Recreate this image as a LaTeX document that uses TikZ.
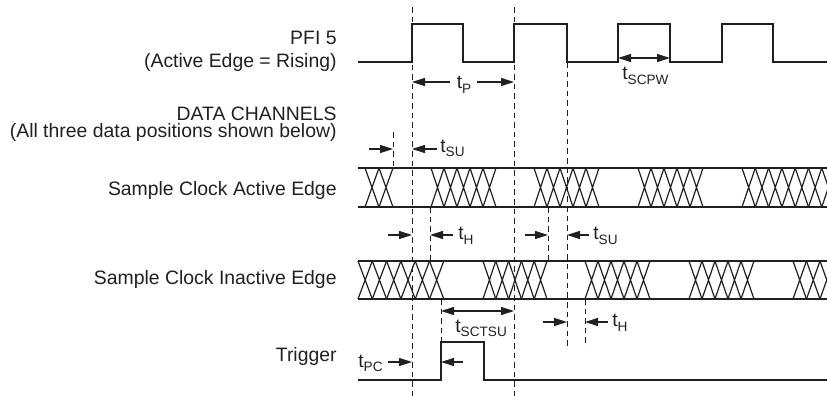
\documentclass[tikz,border=0pt]{standalone}
\usepackage{fontspec}
\setmainfont{Liberation Sans}
\usepackage{tikz}
\usetikzlibrary{arrows.meta}

\definecolor{ink}{RGB}{35,31,32}
\newcommand{\tsub}[1]{t\raisebox{-2pt}{\fontsize{6.8}{7}\selectfont #1}}
\newcommand{\xband}[5]{%
  \foreach \k in {1,...,#4}
    \draw ({#3+(\k-1)*#5},#1) -- ({#3+\k*#5},#2)
          ({#3+(\k-1)*#5},#2) -- ({#3+\k*#5},#1);}

\begin{document}
\begin{tikzpicture}[x=0.5pt,y=-0.5pt,color=ink,
  lbl/.style={anchor=base east,inner sep=0pt,font=\fontsize{9.7}{11}\selectfont},
  tlbl/.style={inner sep=0pt,font=\fontsize{9.6}{11}\selectfont},
  sig/.style={line width=0.8pt},
  xing/.style={line width=0.6pt},
  guide/.style={line width=0.5pt,dash pattern=on 2.8pt off 2pt},
  tarr/.style={-{Triangle[length=6.5pt,width=4pt]},line width=0.55pt},
  dim/.style={{Triangle[length=6.5pt,width=4pt]}-{Triangle[length=6.5pt,width=4pt]},line width=0.55pt}
  ]
  \clip (0,0) rectangle (827,396);

  \node[lbl] (pfi)     at (337,45)  {PFI 5};
  \node[lbl] (pfiedge) at (337,68)  {(Active Edge = Rising)};
  \node[lbl] (data)    at (337,120) {DATA CHANNELS};
  \node[lbl] (datapos) at (337,138) {(All three data positions shown below)};
  \node[lbl] (sca)     at (337,195) {Sample Clock Active Edge};
  \node[lbl] (sci)     at (337,285) {Sample Clock Inactive Edge};
  \node[lbl] (trig)    at (337,361) {Trigger};

  \draw[sig] (358,62) -- (412,62) -- (412,24) -- (463,24) -- (463,62)
    -- (514,62) -- (514,24) -- (567,24) -- (567,62) -- (618,62) -- (618,24)
    -- (670,24) -- (670,62) -- (722,62) -- (722,24) -- (773,24) -- (773,62)
    -- (827,62);

  \draw[sig] (358,168) -- (827,168) (358,207) -- (827,207);
  \draw[sig] (358,261) -- (827,261) (358,299) -- (827,299);
  \begin{scope}[xing]
    \xband{168}{207}{365}{2}{14}
    \xband{168}{207}{431}{5}{13}
    \xband{168}{207}{534}{5}{13}
    \xband{168}{207}{638}{5}{13}
    \xband{168}{207}{742}{7}{13.3}
    \xband{261}{299}{358}{6}{14.3}
    \xband{261}{299}{483}{5}{12.8}
    \xband{261}{299}{585}{5}{13}
    \xband{261}{299}{689}{5}{13}
    \xband{261}{299}{793}{3}{13.5}
  \end{scope}

  \draw[sig] (358,380) -- (441,380) -- (441,342) -- (484,342) -- (484,380) -- (827,380);

  \draw[guide] (412,7) -- (412,396);
  \draw[guide] (514,7) -- (514,396);
  \draw[guide] (567,62) -- (567,347);
  \draw[guide] (393,132) -- (393,168);
  \draw[guide] (430,207) -- (430,261);
  \draw[guide] (548,207) -- (548,261);
  \draw[guide] (585,299) -- (585,347);
  \draw[guide] (441,299) -- (441,342);

  \node[tlbl,anchor=base] (tp) at (464,89) {\tsub{P}};
  \draw[tarr] (450,82) -- (412,82);
  \draw[tarr] (477,82) -- (514,82);

  \draw[dim] (618,58) -- (670,58);
  \node[tlbl,anchor=base west] (tscpw) at (622,80) {\tsub{SCPW}};

  \draw[tarr] (369,149) -- (393,149);
  \draw[tarr] (437,149) -- (412,149);
  \node[tlbl,anchor=base west] (tsua) at (440,152) {\tsub{SU}};

  \draw[tarr] (388,235) -- (412,235);
  \draw[tarr] (453,235) -- (430,235);
  \node[tlbl,anchor=base west] (tha) at (458,240) {\tsub{H}};

  \draw[tarr] (525,235) -- (548,235);
  \draw[tarr] (589,235) -- (567,235);
  \node[tlbl,anchor=base west] (tsub) at (593,240) {\tsub{SU}};

  \draw[dim] (441,311) -- (514,311);
  \node[tlbl,anchor=base west] (tsctsu) at (455,332) {\tsub{SCTSU}};

  \draw[tarr] (543,322) -- (567,322);
  \draw[tarr] (608,322) -- (585,322);
  \node[tlbl,anchor=base west] (thb) at (612,327) {\tsub{H}};

  \node[tlbl,anchor=base west] (tpc) at (358,367) {\tsub{PC}};
  \draw[tarr] (388,362) -- (412,362);
  \draw[tarr] (463,362) -- (441,362);
\end{tikzpicture}
\end{document}
